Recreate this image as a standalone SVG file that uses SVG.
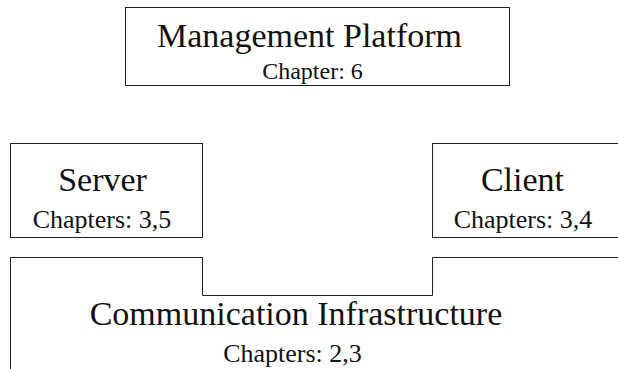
<svg xmlns="http://www.w3.org/2000/svg" width="618" height="369" viewBox="0 0 618 369">
  <style>
    .box { fill: none; stroke: #222; stroke-width: 1; }
    .title { font-family: "Liberation Serif", "Times New Roman", serif; font-size: 34px; fill: #111; text-anchor: middle; }
    .sub { font-family: "Liberation Serif", "Times New Roman", serif; font-size: 26px; fill: #111; text-anchor: middle; }
  </style>
  <rect width="618" height="369" fill="#fff"/>

  <g id="management-platform">
    <rect class="box" x="125.5" y="7.5" width="384" height="78"/>
    <text class="title" x="309.5" y="47">Management Platform</text>
    <text class="sub" x="312.5" y="79" style="font-size:24px">Chapter: 6</text>
  </g>

  <g id="server">
    <rect class="box" x="10.5" y="143.5" width="192" height="94"/>
    <text class="title" x="102.5" y="191">Server</text>
    <text class="sub" x="102" y="228">Chapters: 3,5</text>
  </g>

  <g id="client">
    <!-- right side runs past the canvas edge -->
    <rect class="box" x="432.5" y="143.5" width="200" height="94"/>
    <text class="title" x="522.5" y="191">Client</text>
    <text class="sub" x="523" y="228">Chapters: 3,4</text>
  </g>

  <g id="communication-infrastructure">
    <!-- stepped outline: notch between server and client, open at the bottom -->
    <path class="box" d="M10.5,380 V257.5 H202.5 V295.5 H432.5 V257.5 H630"/>
    <text class="title" x="296" y="325">Communication Infrastructure</text>
    <text class="sub" x="292.5" y="362">Chapters: 2,3</text>
  </g>

  <g id="connectors"></g>
</svg>
